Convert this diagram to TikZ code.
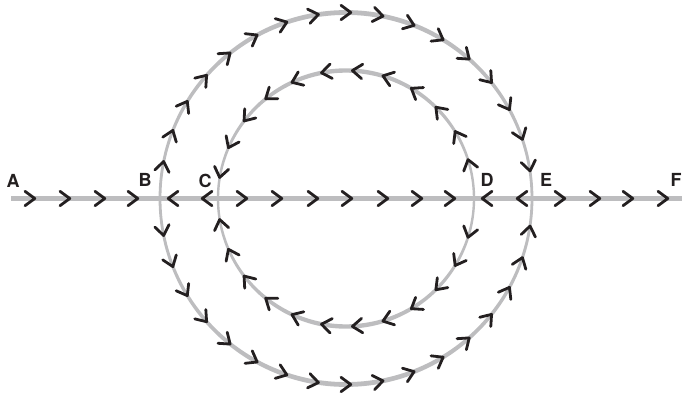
\documentclass[tikz,border=0pt]{standalone}
\usepackage{fontspec}
\setmainfont{TeX Gyre Heros}
\usetikzlibrary{calc}
\definecolor{linegray}{HTML}{BDBDBF}
\definecolor{ink}{HTML}{231F20}
\tikzset{
  chevline/.style={draw=ink, line width=2.8pt, line cap=round, line join=round},
  chevron/.pic={\draw[chevline] (-5,7.2) -- (4.8,0) -- (-5,-7.2);},
  lbl/.style={font=\fontsize{18}{18}\selectfont\bfseries, text=ink, inner sep=0pt, anchor=center},
  track/.style={draw=linegray, line width=4.4pt},
  ring/.style={fill=linegray, even odd rule}
}
\begin{document}
\begin{tikzpicture}[x=1pt,y=1pt]
\useasboundingbox (0,0) rectangle (682,394);
% centre and key points
\coordinate (o) at (346,195.5);
\coordinate (start) at (11,195.5);
\coordinate (end) at (682,195.5);
% rings with varying stroke width
\fill[ring] (o) ellipse [x radius=187.4, y radius=188.4] (o) ellipse [x radius=184.6, y radius=183.6];
\fill[ring] (o) ellipse [x radius=129.2, y radius=130.2] (o) ellipse [x radius=126.8, y radius=125.8];
% horizontal track
\draw[track] (start) -- (end);
% chevrons on the track
\foreach \x in {30,65,100,133,242,277,313,347,383,417,450,560,595,628,663}
  \pic at (\x,195.5) {chevron};
\foreach \x in {173,207,487,522}
  \pic[rotate=180] at (\x,195.5) {chevron};
% outer ring chevrons
\foreach \t in {10,20,...,170}
  \pic[rotate=\t-90] at ($(o)+(\t:186)$) {chevron};
\foreach \t in {190,200,...,350}
  \pic[rotate=\t+90] at ($(o)+(\t:186)$) {chevron};
% inner ring chevrons
\foreach \k in {0,...,11}{
  \pgfmathsetmacro{\t}{15.5+13.9*\k}
  \pic[rotate=\t+90] at ($(o)+(\t:128)$) {chevron};
  \pgfmathsetmacro{\u}{360-\t}
  \pic[rotate=\u-90] at ($(o)+(\u:128)$) {chevron};
}
% labels
\node[lbl] (A) at (13,213) {A};
\node[lbl] (B) at (145,214) {B};
\node[lbl] (C) at (205,213) {C};
\node[lbl] (D) at (487,214) {D};
\node[lbl] (E) at (546,214) {E};
\node[lbl] (F) at (676,214) {F};
\end{tikzpicture}
\end{document}
